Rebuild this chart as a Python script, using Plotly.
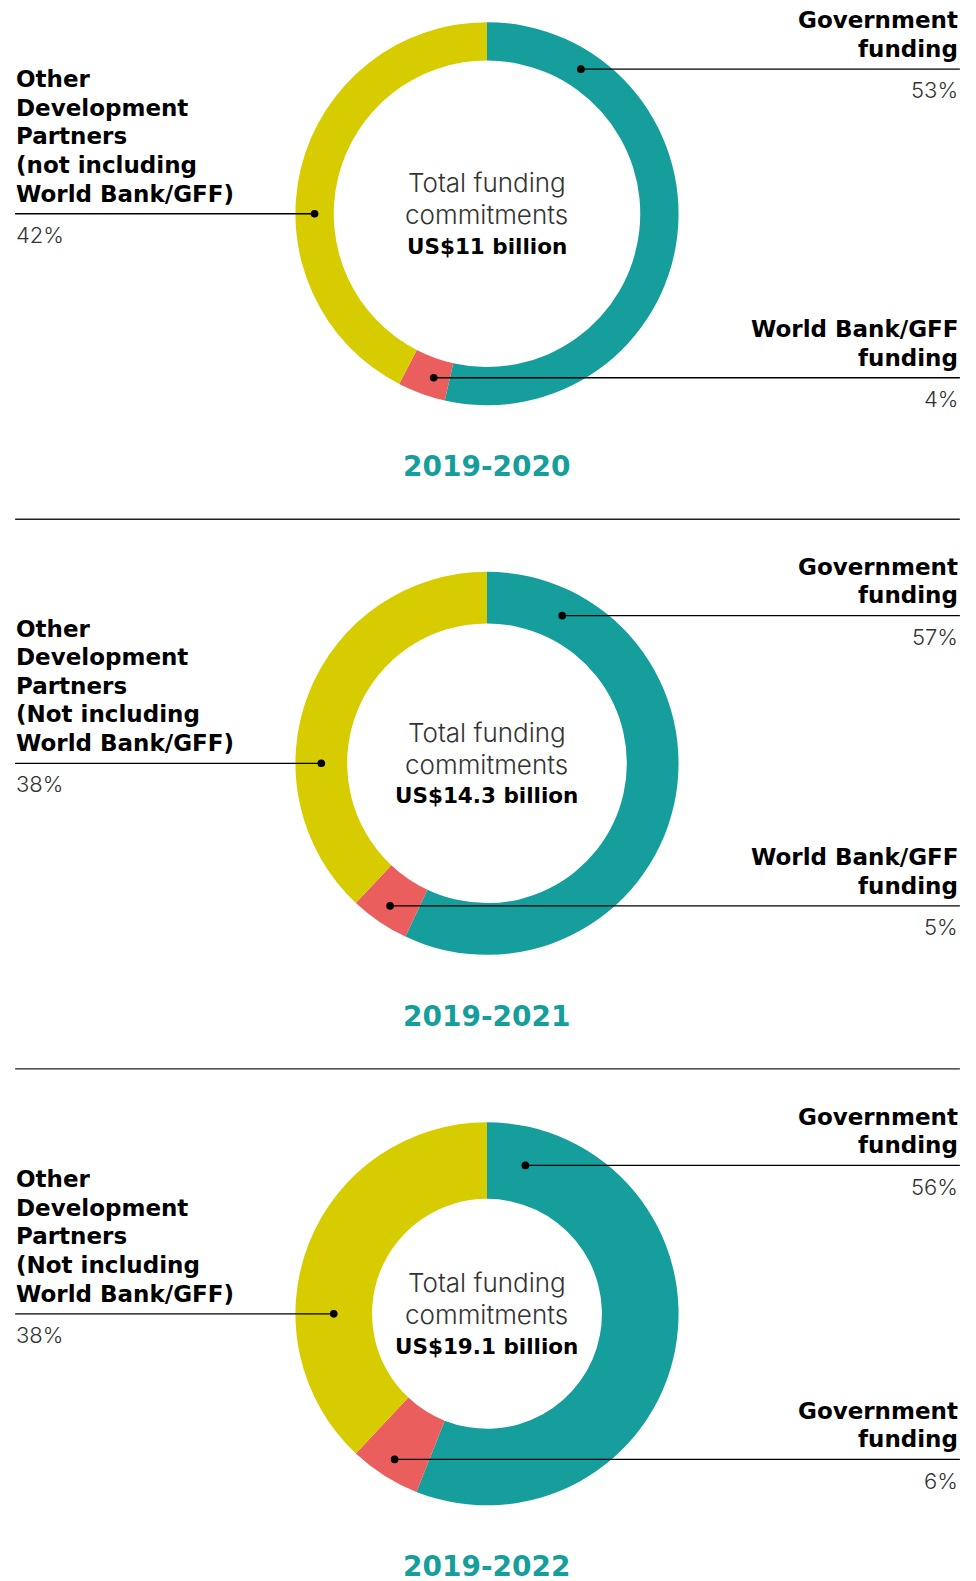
import math
import plotly.graph_objects as go

W, H = 976, 1581
# positions below were measured on a 968 x 1568 view of the layout
VW, VH = 968, 1568

# ---- data -------------------------------------------------------------------
periods = ["2019-2020", "2019-2021", "2019-2022"]
totals = ["US$11 billion", "US$14.3 billion", "US$19.1 billion"]
gov_share = [53, 57, 56]
wb_share = [4, 5, 6]
other_share = [42, 38, 38]
gov_labels = ["Government<br>funding"] * 3
wb_labels = ["World Bank/GFF<br>funding", "World Bank/GFF<br>funding", "Government<br>funding"]
other_labels = [
    "Other<br>Development<br>Partners<br>(not including<br>World Bank/GFF)",
    "Other<br>Development<br>Partners<br>(Not including<br>World Bank/GFF)",
    "Other<br>Development<br>Partners<br>(Not including<br>World Bank/GFF)",
]

# ---- styling / layout -------------------------------------------------------
TEAL, RED, YELLOW = "#159E9B", "#EB5E5E", "#D6CC00"
BOLD = "DejaVu Sans"
LIGHT = "Inter"
centers_y = [212, 757, 1303]
cx, R = 483, 190
holes = [0.80, 0.73, 0.60]
gov_dot_angle = [33, 27, 14.5]      # where the callout leaves the teal ring
x_left, x_right = 15, 952

fig = go.Figure()
shapes, annots = [], []


def txt(x, y, s, anchor, size=23, bold=True, color="#000"):
    annots.append(dict(x=x, y=y, xref="x", yref="y", text=s, showarrow=False,
                       xanchor=anchor, yanchor="middle", align=anchor,
                       font=dict(family=BOLD if bold else LIGHT, size=size,
                                 weight=700 if bold else 300, color=color)))


def label(lines, line_y, anchor, pct):
    parts = lines.split("<br>")
    xa = x_right if anchor == "right" else x_left - 1
    for i, p in enumerate(reversed(parts)):
        txt(xa, line_y - 20 - 28.4 * i, p, anchor)
    txt(xa, line_y + 21, f"{pct}%", anchor, size=22, bold=False, color="#333")


def dot(x, y, r=3.8):
    shapes.append(dict(type="circle", xref="x", yref="y", x0=x - r, x1=x + r, y0=y - r, y1=y + r,
                       fillcolor="#000", line=dict(width=0), layer="above"))


for k in range(3):
    cy = centers_y[k]
    fig.add_trace(go.Pie(
        values=[gov_share[k], wb_share[k], other_share[k]],
        labels=["Government funding", "World Bank/GFF funding", "Other Development Partners"],
        marker=dict(colors=[TEAL, RED, YELLOW], line=dict(width=0)),
        hole=holes[k], sort=False, direction="clockwise", textinfo="none",
        showlegend=False,
        domain=dict(x=[(cx - R) / VW, (cx + R) / VW], y=[1 - (cy + R) / VH, 1 - (cy - R) / VH]),
    ))
    rm = R * (1 + holes[k]) / 2

    # government callout (top right)
    a = math.radians(gov_dot_angle[k])
    gx, gy = cx + rm * math.sin(a), cy - rm * math.cos(a)
    # world bank callout (bottom right), mid-angle of the red slice (shares are %)
    a = math.radians(3.6 * (gov_share[k] + wb_share[k] / 2))
    wx, wy = cx + 171 * math.sin(a), cy - 171 * math.cos(a)
    # other partners callout (left)
    ox, oy = cx - rm, cy

    for (x0, x1, y) in [(gx, x_right, gy), (wx, x_right, wy), (x_left, ox, oy)]:
        shapes.append(dict(type="line", xref="x", yref="y", x0=x0, x1=x1, y0=y, y1=y,
                           line=dict(color="#000", width=1.3), layer="above"))
    for (x, y) in [(gx, gy), (wx, wy), (ox, oy)]:
        dot(x, y)

    label(gov_labels[k], gy, "right", gov_share[k])
    label(wb_labels[k], wy, "right", wb_share[k])
    label(other_labels[k], oy, "left", other_share[k])

    # centre text
    txt(cx, cy - 31, "Total funding", "center", size=26, bold=False, color="#333")
    txt(cx, cy + 1, "commitments", "center", size=26, bold=False, color="#333")
    txt(cx, cy + 32, totals[k], "center", size=21.5)

    # period title
    txt(cx, cy + 251, periods[k], "center", size=28, color=TEAL)

    if k < 2:
        sy = cy + 303
        shapes.append(dict(type="line", xref="x", yref="y", x0=x_left, x1=x_right, y0=sy, y1=sy,
                           line=dict(color="#222", width=1.3)))

fig.update_xaxes(range=[0, VW], visible=False, fixedrange=True)
fig.update_yaxes(range=[VH, 0], visible=False, fixedrange=True)
fig.update_layout(width=W, height=H, margin=dict(l=0, r=0, t=0, b=0),
                  paper_bgcolor="white", plot_bgcolor="rgba(0,0,0,0)",
                  shapes=shapes, annotations=annots)

fig.write_html("out.html", config=dict(displayModeBar=False),
               post_script="document.body.style.margin='0';")
